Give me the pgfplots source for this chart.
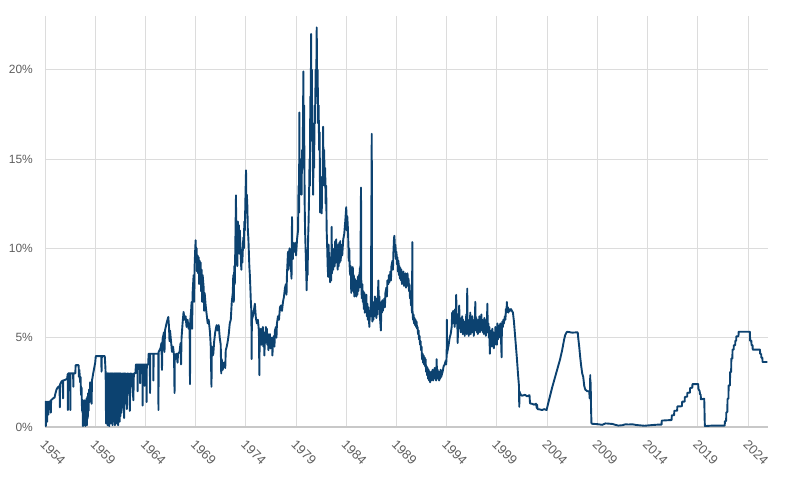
\documentclass[border=0pt]{standalone}
\usepackage{fontspec}
\setmainfont{Liberation Sans}
\usepackage{pgfplots}
\pgfplotsset{compat=1.18}
\definecolor{fedblue}{RGB}{12,66,112}
\definecolor{gridgray}{RGB}{220,220,220}
\definecolor{axisgray}{RGB}{200,200,200}
\definecolor{labelgray}{RGB}{95,95,95}
\begin{document}
\begin{tikzpicture}
\begin{axis}[
  scale only axis,
  width=723bp, height=411bp,
  xmin=1954.5, xmax=2026.5,
  ymin=0, ymax=23,
  axis x line*=bottom, axis y line*=left,
  x axis line style={-, draw=axisgray, line width=1.5bp},
  y axis line style={draw=none},
  major tick length=0pt,
  grid=major,
  grid style={draw=gridgray, line width=0.8bp},
  xtick={1954.5,1959.5,1964.5,1969.5,1974.5,1979.5,1984.5,1989.5,1994.5,1999.5,2004.5,2009.5,2014.5,2019.5,2024.5},
  xticklabels={1954,1959,1964,1969,1974,1979,1984,1989,1994,1999,2004,2009,2014,2019,2024},
  ytick={0,5,10,15,20},
  yticklabels={0\%,5\%,10\%,15\%,20\%},
  ticklabel style={text=labelgray},
  yticklabel style={font=\fontsize{12}{14}\selectfont, inner sep=0pt, anchor=east, xshift=-12bp},
  xticklabel style={font=\fontsize{13}{15}\selectfont, xshift=1bp, yshift=-12bp, inner sep=0pt, rotate=-45, anchor=north west},
]
\addplot[fedblue, line width=1.9bp, line join=round] coordinates {
(1954.50,0.10)(1954.52,1.41)(1954.56,1.41)(1954.58,0.05)(1954.61,1.41)(1954.65,0.60)(1954.68,1.41)(1954.72,0.30)(1954.75,1.41)(1954.82,1.41)(1954.84,0.70)(1954.87,1.41)(1954.94,1.41)(1954.96,1.00)(1954.99,1.45)
(1955.06,1.45)(1955.08,0.80)(1955.11,1.50)(1955.30,1.60)(1955.45,1.65)(1955.55,1.90)(1955.65,2.10)(1955.75,2.20)(1955.85,2.25)(1955.95,2.30)(1955.98,1.10)(1956.01,2.40)
(1956.15,2.55)(1956.28,2.60)(1956.30,1.60)(1956.32,2.60)(1956.55,2.65)(1956.70,2.70)(1956.76,2.95)(1956.78,0.95)(1956.80,3.00)
(1957.00,3.00)(1957.02,0.95)(1957.04,3.00)(1957.30,3.00)(1957.32,2.25)(1957.34,3.00)(1957.52,3.00)(1957.55,3.46)(1957.85,3.46)(1957.88,2.80)(1957.92,3.20)
(1958.00,2.50)(1958.04,2.80)(1958.09,1.80)(1958.14,2.20)(1958.19,0.90)(1958.23,1.50)(1958.28,0.05)(1958.32,1.40)(1958.36,0.10)(1958.40,1.50)(1958.44,0.20)(1958.48,1.30)(1958.52,0.05)(1958.56,1.50)(1958.60,0.30)(1958.64,1.60)(1958.68,0.10)(1958.72,1.70)(1958.76,0.50)(1958.80,1.90)(1958.84,0.90)(1958.89,2.10)(1958.94,1.40)
(1959.00,2.50)(1959.10,2.40)(1959.14,1.30)(1959.18,2.60)(1959.30,3.00)(1959.40,3.30)(1959.50,3.60)(1959.56,3.97)(1960.10,3.97)(1960.13,3.10)(1960.16,3.97)(1960.45,3.97)(1960.50,3.50)(1960.54,3.00)
(1960.58,0.20)(1960.62,3.00)(1960.66,0.50)(1960.70,3.00)(1960.74,0.10)(1960.78,3.00)(1960.82,0.80)(1960.86,3.00)(1960.90,0.05)(1960.94,3.00)(1960.98,0.40)(1961.02,3.00)(1961.06,0.20)(1961.10,3.00)(1961.14,1.00)(1961.18,3.00)(1961.22,0.10)(1961.26,3.00)(1961.30,0.60)(1961.34,3.00)(1961.38,0.30)(1961.42,3.00)(1961.46,0.10)(1961.50,3.00)(1961.54,0.70)(1961.58,3.00)(1961.62,0.20)(1961.66,3.00)(1961.70,0.50)(1961.74,3.00)(1961.78,0.10)(1961.82,3.00)(1961.86,0.90)(1961.90,3.00)(1961.94,0.30)(1961.98,3.00)(1962.02,0.60)(1962.06,3.00)
(1962.12,0.80)(1962.18,3.00)(1962.25,1.10)(1962.30,3.00)(1962.38,0.50)(1962.44,3.00)(1962.50,1.60)(1962.55,3.00)(1962.65,1.00)(1962.70,3.00)(1962.80,2.00)(1962.85,3.00)(1962.95,0.90)(1963.00,3.00)(1963.10,2.30)(1963.15,3.00)(1963.30,1.50)(1963.35,3.00)(1963.50,3.00)
(1963.56,3.50)(1963.70,3.50)(1963.72,2.00)(1963.74,3.50)(1963.95,3.50)(1963.97,2.45)(1963.99,3.50)(1964.20,3.50)(1964.22,1.20)(1964.24,3.50)(1964.40,3.50)(1964.42,2.30)(1964.44,3.50)(1964.60,3.50)(1964.62,1.40)(1964.64,3.50)(1964.78,3.50)
(1964.82,4.10)(1964.94,4.10)(1964.96,1.90)(1964.98,4.10)(1965.28,4.10)(1965.30,2.60)(1965.32,4.10)(1965.60,4.10)(1965.78,4.10)(1965.80,0.95)(1965.82,4.20)
(1966.00,4.40)(1966.10,4.70)(1966.15,3.20)(1966.20,4.90)(1966.35,5.30)(1966.40,4.20)(1966.45,5.40)(1966.60,5.80)(1966.70,6.00)(1966.78,6.16)(1966.85,5.60)(1966.90,4.80)(1966.95,5.40)
(1967.05,4.80)(1967.15,4.20)(1967.25,4.50)(1967.35,4.00)(1967.40,1.90)(1967.43,4.00)(1967.60,4.10)(1967.70,3.60)(1967.75,4.10)(1967.90,4.20)
(1968.00,4.70)(1968.05,3.50)(1968.10,5.00)(1968.20,5.80)(1968.30,6.44)(1968.40,6.00)(1968.50,6.20)(1968.60,5.60)(1968.70,6.00)(1968.80,5.50)(1968.90,5.80)(1968.94,2.40)(1968.97,6.00)
(1969.05,6.50)(1969.10,7.00)(1969.15,5.50)(1969.20,7.50)(1969.30,8.50)(1969.35,7.00)(1969.40,9.00)(1969.45,9.80)(1969.50,10.45)(1969.55,9.40)(1969.60,10.00)(1969.65,8.70)(1969.70,9.60)(1969.75,8.60)(1969.80,9.50)(1969.85,8.00)(1969.90,9.30)(1969.95,8.50)
(1970.00,9.20)(1970.05,7.60)(1970.10,8.80)(1970.15,7.00)(1970.20,8.50)(1970.30,7.80)(1970.35,6.50)(1970.40,7.50)(1970.50,6.80)(1970.60,6.30)(1970.70,5.80)(1970.80,6.00)(1970.93,5.30)
(1971.00,4.60)(1971.08,2.25)(1971.11,4.50)(1971.20,4.00)(1971.26,4.10)(1971.35,4.80)(1971.45,5.30)(1971.55,5.60)(1971.60,5.70)(1971.70,5.40)(1971.80,5.70)(1971.90,5.00)
(1972.00,4.60)(1972.05,3.00)(1972.10,3.80)(1972.20,3.20)(1972.30,3.60)(1972.45,3.30)(1972.50,4.30)(1972.60,4.50)(1972.70,4.80)(1972.80,5.20)(1972.90,5.80)
(1973.00,6.00)(1973.10,7.00)(1973.20,7.50)(1973.25,8.50)(1973.30,7.00)(1973.35,9.00)(1973.40,8.00)(1973.45,10.00)(1973.52,12.96)(1973.55,9.50)(1973.60,10.80)(1973.65,9.00)(1973.70,11.50)(1973.75,10.20)(1973.80,11.30)(1973.85,9.70)(1973.90,11.00)
(1974.00,9.60)(1974.05,8.80)(1974.10,9.90)(1974.15,9.20)(1974.25,10.60)(1974.30,10.00)(1974.35,11.50)(1974.40,11.00)(1974.45,12.50)(1974.52,14.36)(1974.55,12.00)(1974.60,13.00)(1974.65,12.40)(1974.70,11.00)(1974.75,10.60)(1974.80,9.80)(1974.85,9.00)(1974.90,8.50)(1974.95,7.80)
(1975.00,7.00)(1975.05,6.50)(1975.08,3.80)(1975.10,6.00)(1975.20,6.20)(1975.30,6.50)(1975.40,6.90)(1975.50,6.10)(1975.60,5.80)(1975.70,6.00)(1975.80,5.40)(1975.85,2.90)(1975.88,5.30)
(1976.00,5.50)(1976.05,4.60)(1976.10,5.40)(1976.15,4.80)(1976.20,5.60)(1976.25,4.50)(1976.30,5.30)(1976.35,4.00)(1976.40,5.20)(1976.45,4.70)(1976.50,5.60)(1976.55,4.80)(1976.60,5.50)(1976.65,4.60)(1976.70,5.20)(1976.75,4.30)(1976.80,5.00)(1976.85,4.60)(1976.90,5.20)(1976.95,4.40)
(1977.00,5.00)(1977.05,4.60)(1977.10,5.00)(1977.15,4.00)(1977.20,4.80)(1977.30,5.10)(1977.35,4.50)(1977.40,5.40)(1977.50,5.60)(1977.55,5.00)(1977.60,5.80)(1977.70,6.20)(1977.80,6.00)(1977.90,6.70)
(1978.00,6.80)(1978.10,6.50)(1978.20,7.00)(1978.30,7.30)(1978.40,7.80)(1978.50,8.00)(1978.55,7.40)(1978.60,8.60)(1978.70,9.80)(1978.75,8.80)(1978.85,10.00)(1978.95,9.50)
(1979.05,8.30)(1979.10,11.75)(1979.13,10.00)(1979.18,9.40)(1979.23,10.30)(1979.30,9.80)(1979.40,10.30)(1979.50,9.60)(1979.60,10.50)(1979.70,11.00)(1979.75,13.50)(1979.80,12.00)(1979.83,17.60)(1979.86,13.00)(1979.90,15.00)(1979.95,13.50)
(1980.00,14.00)(1980.05,13.00)(1980.10,15.50)(1980.15,14.50)(1980.20,17.50)(1980.23,19.90)(1980.26,16.50)(1980.30,18.00)(1980.33,15.00)(1980.36,12.50)(1980.40,11.00)(1980.45,10.00)(1980.50,9.00)(1980.56,7.65)(1980.60,9.50)(1980.65,8.50)(1980.70,10.50)(1980.75,11.50)(1980.80,13.00)(1980.85,15.00)(1980.88,13.50)(1980.92,18.50)(1980.96,17.00)
(1981.00,22.00)(1981.03,18.00)(1981.07,20.00)(1981.10,16.00)(1981.15,17.00)(1981.20,13.00)(1981.25,15.50)(1981.30,14.50)(1981.35,18.00)(1981.40,17.00)(1981.45,20.00)(1981.50,18.50)(1981.56,22.36)(1981.60,19.00)(1981.65,20.00)(1981.70,17.00)(1981.75,18.00)(1981.80,15.50)(1981.85,16.50)(1981.90,12.00)(1981.95,14.00)
(1982.00,12.50)(1982.06,11.95)(1982.10,14.00)(1982.15,13.50)(1982.20,16.80)(1982.23,14.50)(1982.30,15.50)(1982.35,13.50)(1982.40,14.50)(1982.45,12.50)(1982.50,13.50)(1982.55,11.00)(1982.60,10.10)(1982.65,9.00)(1982.70,8.40)(1982.75,10.20)(1982.80,8.50)(1982.85,9.50)(1982.90,8.10)(1982.95,9.00)
(1983.00,8.20)(1983.05,11.20)(1983.08,8.60)(1983.15,9.50)(1983.20,8.80)(1983.30,10.00)(1983.35,9.00)(1983.40,10.40)(1983.45,9.20)(1983.50,10.50)(1983.55,9.40)(1983.60,10.20)(1983.65,8.80)(1983.70,10.00)(1983.75,9.00)(1983.80,10.30)(1983.85,9.20)(1983.90,10.40)(1983.95,9.30)
(1984.00,10.20)(1984.10,9.60)(1984.20,10.50)(1984.30,10.80)(1984.40,11.50)(1984.50,12.30)(1984.55,11.00)(1984.60,11.80)(1984.65,11.30)(1984.70,10.50)(1984.75,9.30)(1984.80,10.00)(1984.85,8.80)(1984.90,8.50)(1984.95,9.00)
(1985.00,7.50)(1985.05,8.90)(1985.10,8.00)(1985.15,8.95)(1985.20,7.60)(1985.25,8.50)(1985.30,7.30)(1985.35,8.30)(1985.40,7.50)(1985.45,8.20)(1985.50,7.30)(1985.55,8.00)(1985.60,7.40)(1985.65,8.40)(1985.70,7.60)(1985.75,8.50)(1985.80,7.80)(1985.85,8.90)(1985.90,7.90)(1985.97,13.40)
(1986.00,8.00)(1986.05,7.20)(1986.10,8.00)(1986.15,7.00)(1986.20,7.60)(1986.25,6.60)(1986.30,7.50)(1986.35,6.40)(1986.40,7.20)(1986.45,6.60)(1986.50,7.40)(1986.55,6.20)(1986.60,6.90)(1986.65,6.00)(1986.70,6.70)(1986.80,5.60)(1986.85,6.50)(1986.95,6.20)
(1987.04,16.40)(1987.07,6.50)(1987.10,5.90)(1987.15,6.80)(1987.20,6.00)(1987.25,7.00)(1987.30,6.20)(1987.35,7.30)(1987.40,6.50)(1987.45,7.00)(1987.50,6.10)(1987.55,7.20)(1987.60,6.30)(1987.70,8.20)(1987.75,6.60)(1987.80,7.30)(1987.85,6.20)(1987.95,5.40)
(1988.00,7.00)(1988.05,6.40)(1988.10,7.10)(1988.15,6.50)(1988.20,6.80)(1988.30,7.20)(1988.35,6.70)(1988.40,7.50)(1988.50,7.80)(1988.55,7.30)(1988.60,8.20)(1988.70,8.00)(1988.75,8.50)(1988.80,8.10)(1988.90,8.70)(1988.95,8.20)
(1989.00,9.00)(1989.10,9.30)(1989.15,8.80)(1989.20,9.80)(1989.26,10.60)(1989.30,10.70)(1989.35,9.80)(1989.40,10.20)(1989.45,9.40)(1989.50,9.80)(1989.55,9.10)(1989.60,9.50)(1989.65,8.70)(1989.70,9.30)(1989.75,8.50)(1989.80,9.00)(1989.85,8.30)(1989.90,8.90)(1989.95,8.20)
(1990.00,8.80)(1990.05,8.00)(1990.10,8.60)(1990.15,8.10)(1990.20,8.70)(1990.25,7.90)(1990.30,8.50)(1990.35,8.00)(1990.40,8.60)(1990.45,7.80)(1990.50,8.40)(1990.55,7.90)(1990.60,8.60)(1990.65,8.00)(1990.70,8.30)(1990.75,7.60)(1990.80,8.00)(1990.85,7.20)(1990.90,7.60)(1990.95,6.80)
(1991.00,7.00)(1991.05,6.40)(1991.08,10.35)(1991.10,6.50)(1991.15,6.00)(1991.20,6.30)(1991.25,5.80)(1991.30,6.10)(1991.35,5.70)(1991.40,6.00)(1991.45,5.60)(1991.50,5.90)(1991.55,5.50)(1991.60,5.60)(1991.65,5.20)(1991.70,5.40)(1991.75,4.90)(1991.80,5.10)(1991.85,4.60)(1991.90,4.80)(1991.95,4.30)
(1992.00,4.50)(1992.05,3.80)(1992.10,4.10)(1992.15,3.60)(1992.20,4.00)(1992.25,3.50)(1992.30,3.90)(1992.35,3.40)(1992.40,3.80)(1992.45,3.10)(1992.50,3.40)(1992.55,2.90)(1992.60,3.30)(1992.65,2.70)(1992.70,3.20)(1992.75,2.60)(1992.80,3.10)(1992.85,2.50)(1992.90,3.00)(1992.95,2.60)
(1993.00,3.10)(1993.05,2.70)(1993.10,3.20)(1993.15,2.60)(1993.20,3.00)(1993.25,2.70)(1993.30,3.30)(1993.35,2.80)(1993.40,3.10)(1993.45,2.60)(1993.50,3.80)(1993.55,2.70)(1993.60,3.20)(1993.65,2.80)(1993.70,3.10)(1993.75,2.60)(1993.80,3.00)(1993.85,2.70)(1993.90,3.20)(1993.95,2.80)
(1994.00,2.90)(1994.10,3.10)(1994.20,3.40)(1994.30,3.50)(1994.40,3.70)(1994.45,3.50)(1994.50,4.00)(1994.52,6.00)(1994.54,4.10)(1994.60,4.30)(1994.70,4.60)(1994.80,5.00)(1994.90,5.20)
(1995.00,5.60)(1995.05,6.40)(1995.10,5.80)(1995.15,6.50)(1995.20,5.90)(1995.25,6.30)(1995.30,5.60)(1995.35,6.60)(1995.40,5.80)(1995.45,7.40)(1995.50,5.90)(1995.55,6.20)(1995.60,4.70)(1995.65,6.30)(1995.70,5.60)(1995.75,6.80)(1995.80,5.50)(1995.85,6.10)(1995.90,5.30)(1995.95,6.00)
(1996.00,5.60)(1996.05,6.20)(1996.10,5.20)(1996.15,6.00)(1996.20,5.40)(1996.25,5.90)(1996.30,5.10)(1996.35,5.80)(1996.40,5.30)(1996.45,6.30)(1996.50,5.20)(1996.55,7.75)(1996.58,5.40)(1996.65,6.00)(1996.70,5.10)(1996.75,5.80)(1996.80,5.30)(1996.85,6.40)(1996.90,5.20)(1996.95,5.90)
(1997.00,5.30)(1997.05,6.20)(1997.10,5.40)(1997.15,6.00)(1997.20,5.10)(1997.25,5.80)(1997.30,5.40)(1997.35,7.00)(1997.40,5.50)(1997.45,6.10)(1997.50,5.30)(1997.55,6.00)(1997.60,5.20)(1997.65,5.90)(1997.70,5.40)(1997.75,6.20)(1997.80,5.30)(1997.85,6.00)(1997.90,5.40)(1997.95,6.30)
(1998.00,5.50)(1998.05,6.00)(1998.10,5.30)(1998.15,5.90)(1998.20,5.20)(1998.25,6.10)(1998.30,5.40)(1998.35,5.80)(1998.40,5.10)(1998.45,6.00)(1998.50,5.30)(1998.55,6.90)(1998.60,5.40)(1998.65,5.80)(1998.70,5.00)(1998.75,5.60)(1998.80,4.10)(1998.85,5.20)(1998.90,4.60)(1998.95,5.40)
(1999.00,4.50)(1999.05,5.50)(1999.10,4.70)(1999.15,5.30)(1999.20,4.40)(1999.25,5.00)(1999.30,4.60)(1999.35,5.60)(1999.40,4.80)(1999.45,5.30)(1999.50,4.60)(1999.55,5.80)(1999.60,4.90)(1999.65,5.40)(1999.70,5.00)(1999.75,5.70)(1999.80,5.10)(1999.85,5.80)(1999.90,5.20)(1999.97,3.90)
(2000.00,5.60)(2000.05,5.90)(2000.10,5.60)(2000.15,6.00)(2000.20,5.80)(2000.30,6.20)(2000.35,6.00)(2000.40,6.60)(2000.45,6.40)(2000.50,7.00)(2000.53,6.50)(2000.60,6.70)(2000.65,6.40)(2000.70,6.60)(2000.80,6.50)(2000.90,6.60)
(2001.00,6.50)(2001.10,6.40)(2001.20,5.90)(2001.30,5.20)(2001.40,4.50)(2001.50,3.80)(2001.55,3.40)(2001.60,3.00)(2001.70,2.30)(2001.73,1.13)(2001.75,2.00)(2001.80,1.90)(2001.90,1.80)
(2002.00,1.75)(2002.30,1.80)(2002.50,1.72)(2002.75,1.78)(2002.80,1.32)(2003.00,1.30)(2003.20,1.25)(2003.40,1.30)(2003.48,1.05)(2003.50,1.25)(2003.55,1.00)(2003.80,0.98)(2004.00,0.95)(2004.20,1.00)(2004.45,0.95)
(2004.60,1.30)(2004.80,1.75)(2005.00,2.20)(2005.20,2.60)(2005.40,3.00)(2005.60,3.40)(2005.80,3.80)(2006.00,4.30)(2006.20,4.90)(2006.30,5.14)(2006.45,5.30)(2006.50,5.33)(2007.00,5.28)(2007.55,5.30)
(2007.60,5.00)(2007.70,4.50)(2007.80,3.90)(2007.90,3.40)(2008.00,3.00)(2008.10,2.80)(2008.20,2.30)(2008.30,2.10)(2008.50,2.00)(2008.70,2.00)(2008.74,1.60)(2008.77,2.10)(2008.80,2.90)(2008.82,1.60)(2008.84,2.50)(2008.88,1.00)(2008.92,0.20)
(2009.00,0.18)(2009.50,0.16)(2010.00,0.12)(2010.30,0.20)(2010.60,0.19)(2011.00,0.17)(2011.30,0.12)(2011.60,0.08)(2012.00,0.10)(2012.30,0.15)(2012.60,0.14)(2013.00,0.15)(2013.40,0.11)(2013.80,0.09)(2014.20,0.07)(2014.60,0.09)(2015.00,0.11)(2015.50,0.13)(2015.90,0.13)
(2015.92,0.36)(2016.90,0.39)(2016.92,0.65)(2017.15,0.66)(2017.17,0.91)(2017.45,0.91)(2017.47,1.15)(2017.93,1.16)(2017.95,1.42)(2018.20,1.42)(2018.22,1.68)(2018.45,1.70)(2018.47,1.91)(2018.72,1.92)(2018.74,2.18)(2018.96,2.20)(2018.98,2.40)(2019.55,2.40)(2019.57,2.13)(2019.70,2.00)(2019.72,1.85)(2019.80,1.80)(2019.82,1.55)(2020.15,1.58)(2020.17,1.10)(2020.20,0.25)(2020.22,0.05)
(2021.00,0.08)(2022.19,0.08)(2022.21,0.33)(2022.33,0.33)(2022.35,0.83)(2022.45,0.83)(2022.47,1.58)(2022.56,1.58)(2022.58,2.33)(2022.71,2.33)(2022.73,3.08)(2022.83,3.08)(2022.85,3.83)(2022.95,3.83)(2022.97,4.33)(2023.08,4.33)(2023.10,4.58)(2023.23,4.58)(2023.25,4.83)(2023.33,4.83)(2023.35,5.08)(2023.56,5.08)(2023.58,5.33)
(2024.70,5.33)(2024.72,4.83)(2024.84,4.83)(2024.86,4.58)(2024.96,4.58)(2024.98,4.33)(2025.70,4.33)(2025.72,4.09)(2025.82,4.09)(2025.84,3.88)(2025.94,3.88)(2025.96,3.64)(2026.45,3.64)
};
\coordinate (SW) at (rel axis cs:0,0);
\end{axis}
\pgfresetboundingbox
\path[use as bounding box] ([shift={(-45bp,-51bp)}]SW) rectangle ++(800bp,478bp);
\end{tikzpicture}
\end{document}
